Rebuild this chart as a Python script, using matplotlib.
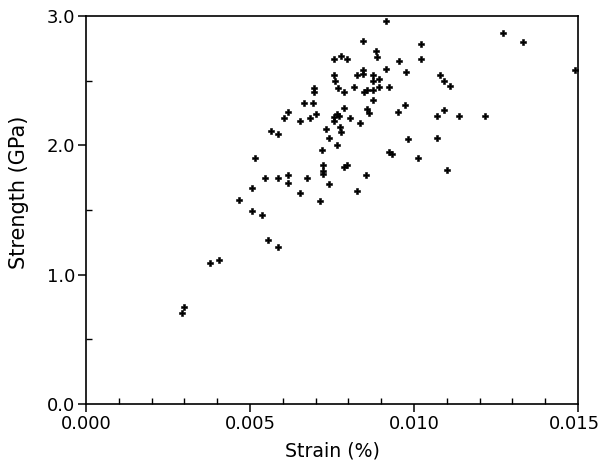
import matplotlib
matplotlib.use('Agg')
import matplotlib.pyplot as plt
import matplotlib.transforms as mtransforms
from matplotlib.ticker import MultipleLocator

# strain (-) and strength (GPa)
strain = [0.00292, 0.00300, 0.00378, 0.00406, 0.00467, 0.00506, 0.00506, 0.00537,
          0.00516, 0.00546, 0.00555, 0.00585, 0.00564, 0.00585, 0.00585, 0.00615,
          0.00615, 0.00605, 0.00615, 0.00652, 0.00652, 0.00664, 0.00693, 0.00682,
          0.00702, 0.00694, 0.00694, 0.00674, 0.00713, 0.00720, 0.00722, 0.00722,
          0.00722, 0.00732, 0.00742, 0.00742, 0.00757, 0.00777, 0.00797, 0.00757,
          0.00759, 0.00767, 0.00788, 0.00786, 0.00757, 0.00764, 0.00772, 0.00757,
          0.00805, 0.00774, 0.00777, 0.00766, 0.00785, 0.00796, 0.00825, 0.00817,
          0.00826, 0.00835, 0.00845, 0.00845, 0.00845, 0.00847, 0.00856, 0.00856,
          0.00863, 0.00855, 0.00874, 0.00876, 0.00876, 0.00874, 0.00884, 0.00886,
          0.00894, 0.00894, 0.00914, 0.00915, 0.00925, 0.00924, 0.00932, 0.00953,
          0.00951, 0.00972, 0.00974, 0.00982, 0.01012, 0.01021, 0.01021, 0.01070,
          0.01091, 0.01070, 0.01080, 0.01091, 0.01111, 0.01100, 0.01138, 0.01217,
          0.01272, 0.01331, 0.01490]
strength = [0.70, 0.75, 1.09, 1.11, 1.58, 1.67, 1.49, 1.46,
            1.90, 1.75, 1.27, 1.21, 2.11, 2.09, 1.75, 1.77,
            1.71, 2.21, 2.26, 2.19, 1.63, 2.33, 2.33, 2.21,
            2.24, 2.44, 2.41, 1.75, 1.57, 1.96, 1.85, 1.80,
            1.78, 2.13, 2.06, 1.70, 2.67, 2.69, 2.67, 2.54,
            2.50, 2.44, 2.41, 2.29, 2.22, 2.24, 2.23, 2.19,
            2.21, 2.14, 2.10, 2.00, 1.83, 1.85, 1.65, 2.45,
            2.54, 2.17, 2.81, 2.58, 2.55, 2.41, 2.43, 2.28,
            2.25, 1.77, 2.54, 2.50, 2.43, 2.35, 2.73, 2.68,
            2.51, 2.45, 2.96, 2.59, 2.45, 1.95, 1.93, 2.65,
            2.26, 2.31, 2.57, 2.05, 1.90, 2.78, 2.67, 2.23,
            2.27, 2.06, 2.54, 2.50, 2.46, 1.81, 2.23, 2.23,
            2.87, 2.80, 2.58]

xticks = [0.000, 0.005, 0.010, 0.015]
xticklabels = ['0.000', '0.005', '0.010', '0.015']
yticks = [0.0, 1.0, 2.0, 3.0]
yticklabels = ['0.0', '1.0', '2.0', '3.0']

plt.rcParams['font.family'] = ['DejaVu Sans']

fig = plt.figure(figsize=(6.02, 4.73), dpi=100)
ax = fig.add_axes([0.1429, 0.1459, 0.8173, 0.8203])

ax.scatter(strain, strength, marker='P', s=20, color='black', edgecolors='black',
           linewidths=0.4, clip_on=False, zorder=3)

ax.set_xlim(0, 0.015)
ax.set_ylim(0, 3.0)
ax.set_xticks(xticks)
ax.set_xticklabels(xticklabels)
ax.set_yticks(yticks)
ax.set_yticklabels(yticklabels)
ax.xaxis.set_minor_locator(MultipleLocator(0.001))
ax.yaxis.set_minor_locator(MultipleLocator(0.5))

ax.tick_params(which='major', direction='out', length=6, width=1.1, labelsize=13, pad=2)
ax.tick_params(which='minor', direction='in', length=4, width=1.0)
for s in ax.spines.values():
    s.set_linewidth(1.2)

# nudge the last x label in so it stays inside the figure
last = ax.get_xticklabels()[-1]
last.set_transform(last.get_transform() + mtransforms.ScaledTranslation(-4 / 100, 0, fig.dpi_scale_trans))

ax.set_xlabel('Strain (%)', fontsize=13.6, labelpad=6)
ax.set_ylabel('Strength (GPa)', fontsize=15)
ax.yaxis.set_label_coords(-0.115, 0.545)

fig.savefig('out.png', dpi=100)
